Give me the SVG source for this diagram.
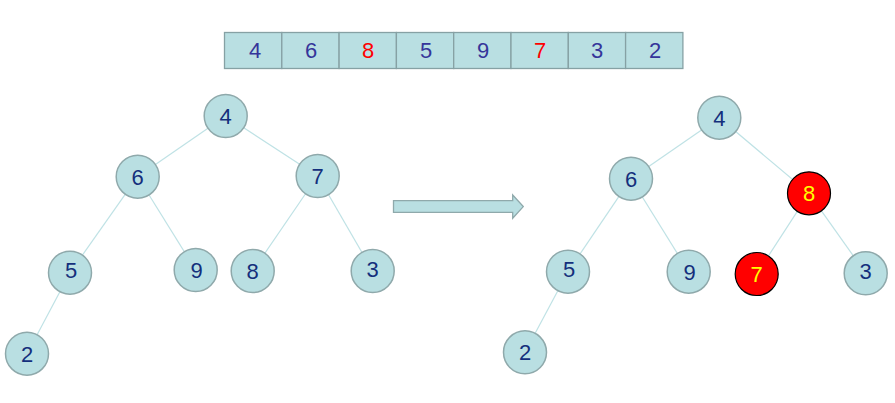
<svg xmlns="http://www.w3.org/2000/svg" width="895" height="403" viewBox="0 0 895 403">
<style>
.n{fill:#b9dfe2;stroke:#8fa9ab;stroke-width:1.5}
.r{fill:#ff0000;stroke:#000;stroke-width:1.2}
.t{font-family:"Liberation Sans",Arial,sans-serif;font-size:22px;text-anchor:middle;fill:#142f7c}
.ty{fill:#ffff00}
.a{font-family:"Liberation Sans",Arial,sans-serif;font-size:22px;text-anchor:middle;fill:#35359a}
.ar{fill:#ff0000}
.e{stroke:#bfe2e5;stroke-width:1.2;fill:none}
.cell{fill:#b9dfe2;stroke:#86a1a4;stroke-width:1.3}
</style>
<rect width="895" height="403" fill="#fff"/>
<g id="array">
<rect class="cell" x="224.5" y="32.5" width="57.3" height="36"/>
<rect class="cell" x="281.8" y="32.5" width="57.3" height="36"/>
<rect class="cell" x="339.1" y="32.5" width="57.3" height="36"/>
<rect class="cell" x="396.4" y="32.5" width="57.3" height="36"/>
<rect class="cell" x="453.7" y="32.5" width="57.3" height="36"/>
<rect class="cell" x="511" y="32.5" width="57.3" height="36"/>
<rect class="cell" x="568.3" y="32.5" width="57.3" height="36"/>
<rect class="cell" x="625.6" y="32.5" width="57.3" height="36"/>
<text class="a" x="255" y="58">4</text>
<text class="a" x="311" y="58">6</text>
<text class="a ar" x="368" y="58">8</text>
<text class="a" x="426" y="58">5</text>
<text class="a" x="483" y="58">9</text>
<text class="a ar" x="540" y="58">7</text>
<text class="a" x="597" y="58">3</text>
<text class="a" x="655" y="58">2</text>
</g>
<g id="connectors">
<line class="e" x1="225.7" y1="116" x2="137.7" y2="176.7"/>
<line class="e" x1="225.7" y1="116" x2="317.7" y2="176"/>
<line class="e" x1="137.7" y1="176.7" x2="70" y2="272.7"/>
<line class="e" x1="137.7" y1="176.7" x2="195.7" y2="270"/>
<line class="e" x1="317.7" y1="176" x2="252.7" y2="271"/>
<line class="e" x1="317.7" y1="176" x2="372.7" y2="271"/>
<line class="e" x1="70" y1="272.7" x2="27" y2="353.7"/>
<line class="e" x1="719.3" y1="117.7" x2="631" y2="178.7"/>
<line class="e" x1="719.3" y1="117.7" x2="809" y2="193.3"/>
<line class="e" x1="631" y1="178.7" x2="568" y2="271.7"/>
<line class="e" x1="631" y1="178.7" x2="688.7" y2="271.7"/>
<line class="e" x1="809" y1="193.3" x2="756.7" y2="274"/>
<line class="e" x1="809" y1="193.3" x2="865.7" y2="273.3"/>
<line class="e" x1="568" y1="271.7" x2="525" y2="352.3"/>
</g>
<g id="arrow">
<path d="M393.5,200.7 H512.7 V195 L523.3,206.6 L512.7,218.3 V212.4 H393.5 Z" fill="#b9dfe2" stroke="#8fa9ab" stroke-width="1.3"/>
</g>
<g id="L4"><circle class="n" cx="225.7" cy="116" r="21.5"/><text class="t" x="225.7" y="124">4</text></g>
<g id="L6"><circle class="n" cx="137.7" cy="176.7" r="21.5"/><text class="t" x="137.7" y="184.7">6</text></g>
<g id="L7"><circle class="n" cx="317.7" cy="176" r="21.5"/><text class="t" x="317.7" y="184">7</text></g>
<g id="L5"><circle class="n" cx="70" cy="272.7" r="21.5"/><text class="t" x="71" y="278">5</text></g>
<g id="L9"><circle class="n" cx="195.7" cy="270" r="21.5"/><text class="t" x="196.7" y="278">9</text></g>
<g id="L8"><circle class="n" cx="252.7" cy="271" r="21.5"/><text class="t" x="252.7" y="279">8</text></g>
<g id="L3"><circle class="n" cx="372.7" cy="271" r="21.5"/><text class="t" x="372.7" y="277">3</text></g>
<g id="L2"><circle class="n" cx="27" cy="353.7" r="21.5"/><text class="t" x="27" y="361.7">2</text></g>
<g id="R4"><circle class="n" cx="719.3" cy="117.7" r="21.5"/><text class="t" x="719.3" y="125.7">4</text></g>
<g id="R6"><circle class="n" cx="631" cy="178.7" r="21.5"/><text class="t" x="631" y="186.7">6</text></g>
<g id="R8"><circle class="r" cx="809" cy="193.3" r="21.5"/><text class="t ty" x="809" y="201.3">8</text></g>
<g id="R5"><circle class="n" cx="568" cy="271.7" r="21.5"/><text class="t" x="569" y="277">5</text></g>
<g id="R9"><circle class="n" cx="688.7" cy="271.7" r="21.5"/><text class="t" x="689.7" y="279.7">9</text></g>
<g id="R7"><circle class="r" cx="756.7" cy="274" r="21.5"/><text class="t ty" x="756.7" y="282">7</text></g>
<g id="R3"><circle class="n" cx="865.7" cy="273.3" r="21.5"/><text class="t" x="865.7" y="279.3">3</text></g>
<g id="R2"><circle class="n" cx="525" cy="352.3" r="21.5"/><text class="t" x="525" y="360.3">2</text></g>
</svg>
